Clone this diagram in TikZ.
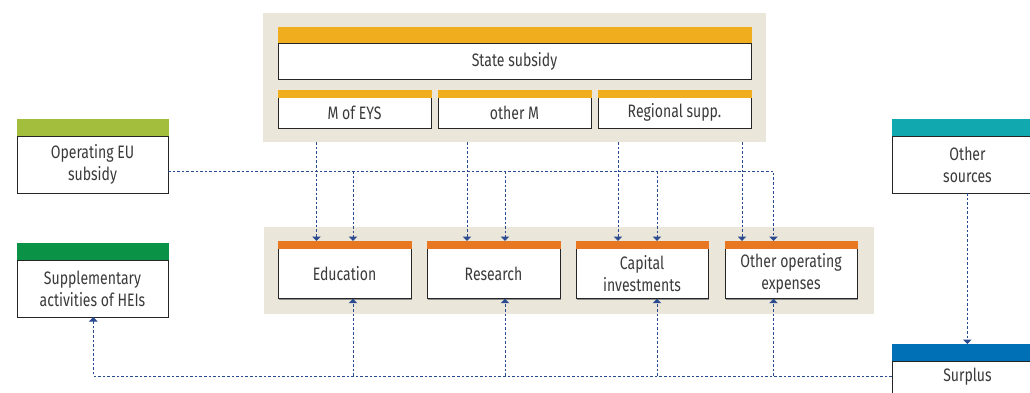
\documentclass[tikz,border=0pt]{standalone}
\usepackage{fontspec}
\setmainfont{Fira Sans}[FakeStretch=0.78]
\usetikzlibrary{arrows.meta,calc}
\definecolor{panel}{HTML}{EBE6DA}
\definecolor{gold}{HTML}{F0AE1E}
\definecolor{orng}{HTML}{E87722}
\definecolor{olive}{HTML}{A2BE3C}
\definecolor{dgreen}{HTML}{0A9247}
\definecolor{teal}{HTML}{12A8B0}
\definecolor{sblue}{HTML}{0070B6}
\definecolor{lnblue}{HTML}{2A4A8F}
\definecolor{txt}{HTML}{3A3A3A}
\tikzset{
  panelbox/.style={fill=panel, draw=none},
  whitebox/.style={fill=white, draw=black!85, line width=0.9pt},
  shadowline/.style={draw=black!45, line width=1.2pt},
  lbl/.style={text=txt, font=\fontsize{18}{22}\selectfont, align=center},
  flow/.style={draw=lnblue, line width=1pt, dash pattern=on 2.6pt off 2pt},
  tip/.style={-{Triangle[length=4.5pt,width=8.5pt]}},
}
\newcommand{\mkbox}[6]{% name, x1, y1(bar top), x2, ybar, y2 ; color via \boxcol
  \fill[\boxcol] (#2,#3) rectangle (#4,#5);
  \draw[shadowline] (#4+0.8,#5) -- (#4+0.8,#6+0.8) -- (#2+0.5,#6+0.8);
  \filldraw[whitebox] (#2,#5) rectangle (#4,#6);
  \fill[\boxcol] (#2-0.5,#3) rectangle (#4+0.5,#5);
  \coordinate (#1-bar) at ($(#2,#3)!0.5!(#4,#3)$);
  \coordinate (#1-bot) at ($(#2,#6)!0.5!(#4,#6)$);
  \coordinate (#1-c) at ($(#2,#5)!0.5!(#4,#6)$);
}
\begin{document}
\begin{tikzpicture}[x=1pt,y=-1pt]
\useasboundingbox (0,0) rectangle (1030,392);
\clip (0,0) rectangle (1030,392);
% panels
\fill[panelbox] (263,13) rectangle (766,142);
\coordinate (toppanel-bot) at (514,142);
\fill[panelbox] (264,227) rectangle (874,314);
% top boxes
\def\boxcol{gold}
\mkbox{state}{278}{27}{751}{43}{79}
\mkbox{meys}{278}{90}{431}{97.5}{128}
\mkbox{otherm}{438}{90}{591}{97.5}{128}
\mkbox{reg}{598}{90}{751}{97.5}{128}
\node[lbl] (stateT) at (state-c) {State subsidy};
\node[lbl] (meysT) at (meys-c) {M of EYS};
\node[lbl] (othermT) at (otherm-c) {other M};
\node[lbl] (regT) at (reg-c) {Regional supp.};
% left boxes
\def\boxcol{olive}
\mkbox{eu}{17}{119}{168}{136}{193}
\node[lbl] (euT) at (eu-c) {Operating EU\\subsidy};
\def\boxcol{dgreen}
\mkbox{sup}{17}{243}{168}{260}{317}
\node[lbl] (supT) at (sup-c) {Supplementary\\activities of HEIs};
% right boxes
\def\boxcol{teal}
\mkbox{oth}{892}{119}{1043}{136}{193}
\node[lbl] (othT) at (oth-c) {Other\\sources};
\def\boxcol{sblue}
\mkbox{sur}{892}{344}{1043}{361}{412}
\node[lbl] (surT) at (967.5,377) {Surplus};
% expense boxes
\def\boxcol{orng}
\mkbox{edu}{278}{241}{411}{248.7}{298.7}
\mkbox{res}{427}{241}{560}{248.7}{298.7}
\mkbox{cap}{576}{241}{708}{248.7}{298.7}
\mkbox{ope}{725}{241}{857}{248.7}{298.7}
\node[lbl] (eduT) at (edu-c) {Education};
\node[lbl] (resT) at (res-c) {Research};
\node[lbl] (capT) at (cap-c) {Capital\\investments};
\node[lbl] (opeT) at (ope-c) {Other operating\\expenses};
% state subsidy flows
\draw[flow,tip] (316.5,0 |- toppanel-bot) -- (316.5,0 |- edu-bar);
\draw[flow,tip] (467,0 |- toppanel-bot) -- (467,0 |- res-bar);
\draw[flow,tip] (618,0 |- toppanel-bot) -- (618,0 |- cap-bar);
\draw[flow,tip] (742,0 |- toppanel-bot) -- (742,0 |- ope-bar);
% EU flows
\coordinate (euR) at (168,171);
\coordinate (euEnd) at (773.5,171);
\draw[flow,tip] (euR) -- (euEnd) -- (773.5,0 |- ope-bar);
\draw[flow,tip] (353,0 |- euR) -- (353,0 |- edu-bar);
\draw[flow,tip] (505,0 |- euR) -- (505,0 |- res-bar);
\draw[flow,tip] (657,0 |- euR) -- (657,0 |- cap-bar);
% surplus flows
\coordinate (surL) at (892,376);
\draw[flow,tip] (surL) -- (93.3,376) -- (93.3,0 |- sup-bot);
\draw[flow,tip] (353,376) -- (353,0 |- edu-bot);
\draw[flow,tip] (505,376) -- (505,0 |- res-bot);
\draw[flow,tip] (657,376) -- (657,0 |- cap-bot);
\draw[flow,tip] (773.5,376) -- (773.5,0 |- ope-bot);
% other sources to surplus
\draw[flow,tip] (967.3,0 |- oth-bot) -- (967.3,0 |- sur-bar);
\end{tikzpicture}
\end{document}
